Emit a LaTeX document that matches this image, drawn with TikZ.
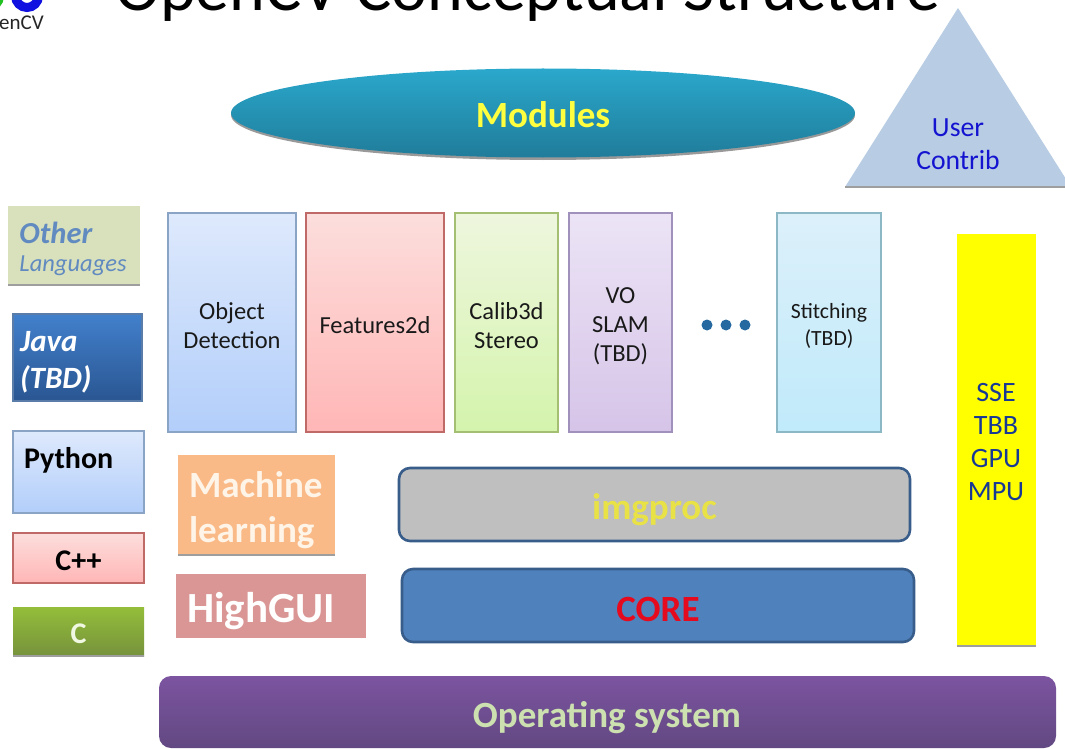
\documentclass[tikz,border=0pt]{standalone}
\usepackage{fontspec}
\setmainfont{Carlito}
\usetikzlibrary{shapes.geometric,calc}
\definecolor{bluetop}{HTML}{DEE9FC}\definecolor{bluebot}{HTML}{B2CEFA}\definecolor{blueln}{HTML}{8AA4C6}
\definecolor{redtop}{HTML}{FCDEDC}\definecolor{redbot}{HTML}{FFB6B6}\definecolor{redln}{HTML}{C06A68}
\definecolor{greentop}{HTML}{EEF6DE}\definecolor{greenbot}{HTML}{D4F4AC}\definecolor{greenln}{HTML}{A5BF72}
\definecolor{purptop}{HTML}{ECE4F6}\definecolor{purpbot}{HTML}{D6C4E8}\definecolor{purpln}{HTML}{A090BC}
\definecolor{cyantop}{HTML}{DCF0FA}\definecolor{cyanbot}{HTML}{C0EAFA}\definecolor{cyanln}{HTML}{8CB8C6}
\definecolor{otherfill}{HTML}{D8E0BC}\definecolor{othertext}{HTML}{608AC0}
\definecolor{javatop}{HTML}{4280CC}\definecolor{javabot}{HTML}{2A5692}\definecolor{javaln}{HTML}{5A7CA8}
\definecolor{cgtop}{HTML}{94BE3A}\definecolor{cgbot}{HTML}{76923C}\definecolor{ctext}{HTML}{F0F8E1}
\definecolor{dotblue}{HTML}{2668A0}\definecolor{acceltext}{HTML}{183896}\definecolor{accelfill}{RGB}{255,255,0}
\definecolor{mlfill}{HTML}{FABA88}\definecolor{mltext}{HTML}{FFF4E8}\definecolor{hgfill}{HTML}{D99694}
\definecolor{bandln}{HTML}{385D8A}\definecolor{imgfill}{HTML}{BFBFBF}\definecolor{imgtext}{HTML}{E8E246}
\definecolor{corefill}{HTML}{4F81BD}\definecolor{coretext}{HTML}{E60A1E}
\definecolor{ostop}{HTML}{7C54A0}\definecolor{osbot}{HTML}{624882}\definecolor{ostext}{HTML}{CCE0B0}
\definecolor{modtop}{HTML}{2AA8CC}\definecolor{modbot}{HTML}{207C9A}\definecolor{modtext}{HTML}{FFFF40}
\definecolor{trifill}{HTML}{B8CCE4}\definecolor{usertext}{HTML}{1414D0}\definecolor{logoblue}{HTML}{1010E0}\definecolor{logogreen}{HTML}{20C020}
\tikzset{
  x=1pt,y=-1pt,
  rect/.style={rectangle,inner sep=0pt,outer sep=0pt,anchor=north west,line width=1.2pt},
  bluebox/.style={rect,draw=blueln,top color=bluetop,bottom color=bluebot},
  redbox/.style={rect,draw=redln,top color=redtop,bottom color=redbot},
  greenbox/.style={rect,draw=greenln,top color=greentop,bottom color=greenbot},
  purplebox/.style={rect,draw=purpln,top color=purptop,bottom color=purpbot},
  cyanbox/.style={rect,draw=cyanln,top color=cyantop,bottom color=cyanbot},
  flat/.style={rect,draw=none},
  bandbox/.style={rect,rounded corners=11pt,line width=2.6pt,draw=bandln},
  edgeline/.style={line width=2pt,draw=black!38},
  lab/.style={inner sep=0pt,outer sep=0pt,align=center},
  collab/.style={lab,text=black!90,font=\fontsize{24.5}{29}\selectfont},
  biglab/.style={lab,font=\bfseries\fontsize{37}{44}\selectfont},
  leftlab/.style={inner sep=0pt,outer sep=0pt,anchor=west},
  dotmark/.style={circle,inner sep=0pt,minimum size=11pt,fill=dotblue}
}
\begin{document}
\begin{tikzpicture}
\useasboundingbox (0,0) rectangle (1065,749);
\clip (0,0) rectangle (1065,749);
\fill[white] (0,0) rectangle (1065,749);

% title and logo
\node[inner sep=0pt,anchor=base] (title) at (528,11) {\fontsize{68}{72}\selectfont OpenCV Conceptual Structure};
\draw[line width=9pt,logoblue] (27,-4) circle (11.5);
\draw[line width=9pt,logogreen] (-12,-4) circle (11.5);
\node[inner sep=0pt,anchor=base west,font=\fontsize{21}{24}\selectfont,text=black!85] (logo) at (-1,30) {enCV};

% language column
\node[flat,minimum width=132pt,minimum height=79pt,fill=otherfill] (other) at (8,206) {};
\draw[edgeline] (other.south west) -- (other.south east);
\node[leftlab,text=othertext,font=\bfseries\itshape\fontsize{30.5}{34}\selectfont] (otherA) at (19.5,233) {Other};
\node[leftlab,text=othertext,font=\itshape\fontsize{24.5}{28}\selectfont] (otherB) at (19.5,266) {Languages};

\node[rect,draw=javaln,minimum width=129pt,minimum height=87pt,top color=javatop,bottom color=javabot] (java) at (13,314) {};
\node[leftlab,text=white,font=\bfseries\itshape\fontsize{31}{34}\selectfont] (javaA) at (20,342) {Java};
\node[leftlab,text=white,font=\bfseries\itshape\fontsize{31}{34}\selectfont] (javaB) at (20,379) {(TBD)};

\node[bluebox,minimum width=131pt,minimum height=82pt] (python) at (13,431) {};
\node[leftlab,text=black,font=\bfseries\fontsize{30}{34}\selectfont] (pythonT) at (24,460) {Python};

\node[redbox,minimum width=131pt,minimum height=50pt] (cpp) at (13,533) {};
\node[lab,text=black,font=\bfseries\fontsize{30}{34}\selectfont] (cppT) at (78.5,561) {C++};

\node[rect,minimum width=131pt,minimum height=49pt,top color=cgtop,bottom color=cgbot] (c) at (13,607) {};
\draw[edgeline,line width=1.5pt] (c.south west) -- (c.south east);
\node[lab,text=ctext,font=\bfseries\fontsize{30}{34}\selectfont] (cT) at (78.5,634) {C};

% module columns
\node[bluebox,minimum width=128pt,minimum height=219pt] (objdet) at (168,213) {};
\node[collab] (objdetT) at (232,325.5) {Object\\Detection};
\node[redbox,minimum width=138pt,minimum height=219pt] (feat) at (306,213) {};
\node[collab] (featT) at (375,325.5) {Features2d};
\node[greenbox,minimum width=103pt,minimum height=219pt] (calib) at (455,213) {};
\node[collab] (calibT) at (506.5,325.5) {Calib3d\\Stereo};
\node[purplebox,minimum width=103pt,minimum height=219pt] (vo) at (569,213) {};
\node[collab] (voT) at (620.5,326) {VO\\SLAM\\(TBD)};
\node[cyanbox,minimum width=104pt,minimum height=219pt] (stitch) at (777,213) {};
\node[lab,text=black!90,font=\fontsize{21.7}{27}\selectfont] (stitchT) at (829,325.5) {Stitching\\(TBD)};
\node[dotmark] (d1) at (707,325) {};
\node[dotmark] (d2) at (726,325) {};
\node[dotmark] (d3) at (745,325) {};

% right column
\node[rect,fill=accelfill,minimum width=79pt,minimum height=412pt] (accel) at (957,234) {};
\draw[edgeline,line width=1.5pt] (accel.south west) -- (accel.south east);
\node[lab,text=acceltext,font=\fontsize{28}{33}\selectfont] (accelT) at (996,442) {SSE\\TBB\\GPU\\MPU};

% machine learning and highgui
\node[flat,fill=mlfill,minimum width=157pt,minimum height=100pt] (ml) at (178,455) {};
\draw[edgeline,line width=1.5pt] (ml.south west) -- (ml.south east);
\node[leftlab,text=mltext,font=\bfseries\fontsize{37}{45}\selectfont,align=left] (mlT) at (189,510) {Machine\\learning};
\node[flat,fill=hgfill,minimum width=190pt,minimum height=64pt] (hg) at (176,574) {};
\node[leftlab,text=white,font=\bfseries\fontsize{43}{48}\selectfont] (hgT) at (187,611) {HighGUI};

% bands
\node[bandbox,fill=imgfill,minimum width=511pt,minimum height=73pt] (imgproc) at (399,468) {};
\node[biglab,text=imgtext] (imgprocT) at (654.5,510) {imgproc};
\node[bandbox,fill=corefill,minimum width=512pt,minimum height=73pt] (core) at (402,569) {};
\node[biglab,text=coretext] (coreT) at (658,609) {CORE};
\node[rect,rounded corners=12pt,minimum width=897pt,minimum height=72pt,top color=ostop,bottom color=osbot] (os) at (159,676) {};
\node[biglab,text=ostext] (osT) at (607,718) {Operating system};

% modules ellipse
\fill[black!40] (543,115) ellipse [x radius=312pt,y radius=45pt];
\node[ellipse,inner sep=0pt,outer sep=0pt,minimum width=624pt,minimum height=89pt,top color=modtop,bottom color=modbot] (modules) at (543,113) {};
\node[biglab,text=modtext] (modulesT) at (543,115) {Modules};

% user contrib
\coordinate (triA) at (958,8);
\coordinate (triB) at (845,187);
\coordinate (triC) at (1071,187);
\fill[trifill] (triA) -- (triC) -- (triB) -- cycle;
\draw[edgeline] (triB) -- (triC);
\node[lab,text=usertext,font=\fontsize{27.7}{33}\selectfont] (user) at (958,144) {User\\Contrib};
\end{tikzpicture}
\end{document}
